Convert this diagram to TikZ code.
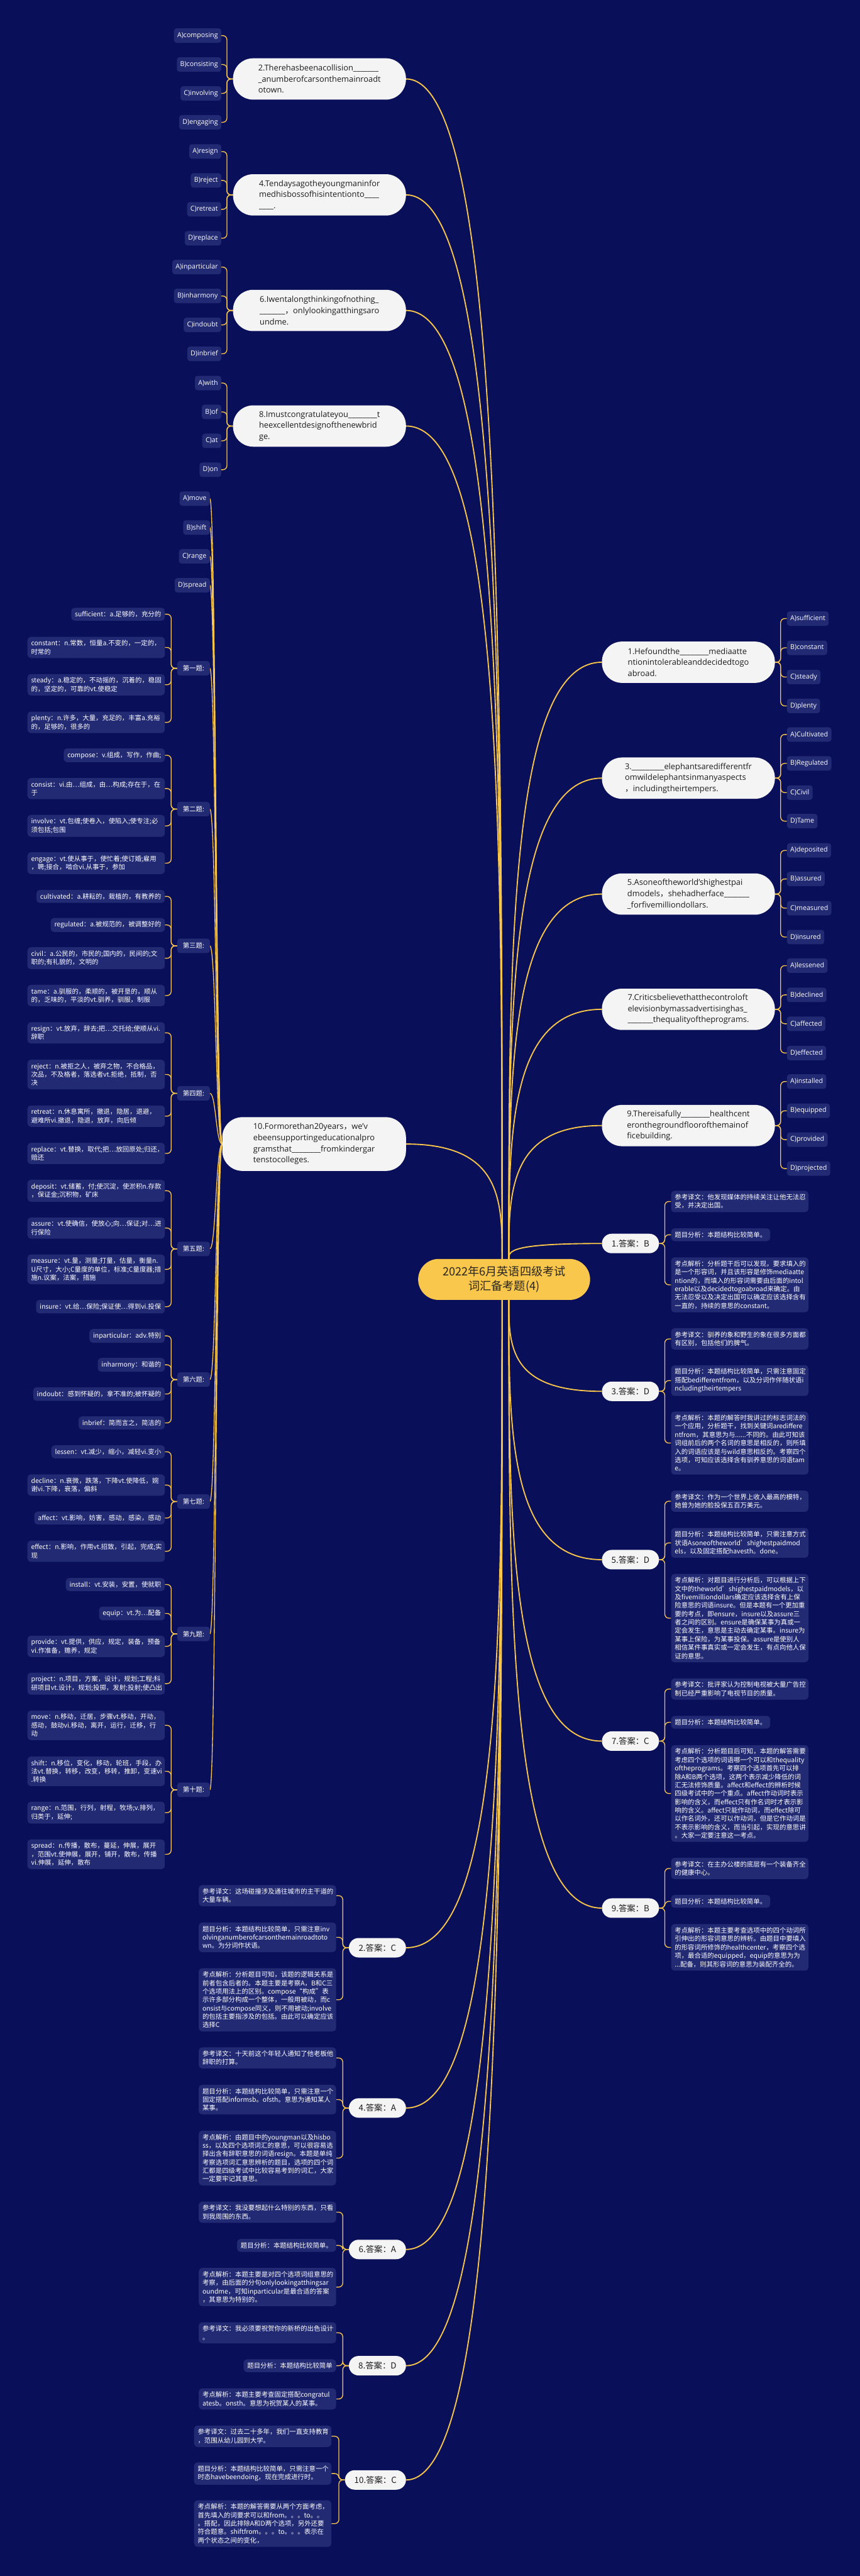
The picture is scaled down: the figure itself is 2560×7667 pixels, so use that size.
\documentclass[tikz,border=0pt]{standalone}
\usepackage{fontspec}
\setmainfont{Noto Sans CJK SC}
\newfontfamily\cjkf{Noto Sans CJK SC}
\newfontfamily\latf{Open Sans}
\usetikzlibrary{calc}
\hyphenpenalty=10000
\exhyphenpenalty=10000
\definecolor{bg}{HTML}{0A0F59}
\definecolor{bx}{HTML}{222A73}
\definecolor{ln}{HTML}{F8C64A}
\definecolor{pill}{HTML}{F4F4F4}
\definecolor{ink}{HTML}{1C1C1C}
\definecolor{ctrfill}{HTML}{F9C74C}
\definecolor{ctrink}{HTML}{2A2620}
\pgfdeclarelayer{back}
\pgfsetlayers{back,main}
\tikzset{
 qn/.style={fill=pill, text=ink, rounded corners=60pt, minimum width=515pt, minimum height=123pt, align=left, font=\latf\fontsize{24}{33}\selectfont, inner xsep=20pt, inner ysep=8pt},
 opt/.style={fill=bx, text=white, rounded corners=8pt, minimum height=43pt, inner xsep=10pt, inner ysep=0pt, font=\latf\fontsize{20}{24}\selectfont},
 lbl/.style={fill=bx, text=white, rounded corners=8pt, minimum height=43pt, minimum width=97pt, inner xsep=10pt, inner ysep=0pt, font=\cjkf\fontsize{19.5}{24}\selectfont},
 vb/.style={fill=bx, text=white, rounded corners=10pt, inner xsep=11pt, inner ysep=10pt, align=left, font=\cjkf\fontsize{19.5}{25}\selectfont},
 tw/.style={text width=387pt},
 ap/.style={fill=pill, text=ink, rounded corners=29pt, minimum width=170pt, minimum height=58pt, inner xsep=28pt, font=\cjkf\fontsize{25}{30}\selectfont},
 cn/.style={fill=ctrfill, text=ctrink, rounded corners=61pt, minimum width=512pt, minimum height=122pt, align=center, font=\cjkf\fontsize{34}{43}\selectfont},
 main/.style={draw=ln, line width=3.5pt},
 sub/.style={draw=ln, line width=2.5pt, rounded corners=12pt},
 curv/.style={draw=ln, line width=2.5pt},
}
\newcommand\mconn[2]{\draw[main] (#1) .. controls ($(#1)!0.5!(#1 |- #2)$) and (#1 |- #2) .. (#2);}
\newcommand\tconn[1]{\draw[curv] (q10.west) .. controls (m10) and (m10 |- #1.east) .. (#1.east);}
\newcommand\bl[2]{\draw[sub] (#1.west) -- ++(-18,0) |- (#2.east);}
\newcommand\br[2]{\draw[sub] (#1.east) -- ++(17,0) |- (#2.west);}
\begin{document}
\begin{tikzpicture}[x=1pt,y=-1pt]
\useasboundingbox (0,0) rectangle (2560,7667);
% center
\node[cn] (c) at (1501,3808) {2022年6月英语四级考试\\词汇备考题(4)};
\coordinate (ctl) at (1495,3747);
\coordinate (ctr) at (1515,3747);
\coordinate (cbl) at (1495,3869);
\coordinate (cbr) at (1515,3869);
% ---------- left questions
\node[qn, anchor=east] (q2) at (1209,235) {2.Therehasbeenacollision\_\_\_\_\_\_\_\\\_anumberofcarsonthemainroadt\\otown.};
\node[opt, anchor=east] (o2a) at (659,106) {A)composing};
\node[opt, anchor=east] (o2b) at (659,192) {B)consisting};
\node[opt, anchor=east] (o2c) at (659,278) {C)involving};
\node[opt, anchor=east] (o2d) at (659,364) {D)engaging};
\node[qn, anchor=east] (q4) at (1209,580) {4.Tendaysagotheyoungmaninfor\\medhisbossofhisintentionto\_\_\_\_\\\_\_\_\_.};
\node[opt, anchor=east] (o4a) at (659,451) {A)resign};
\node[opt, anchor=east] (o4b) at (659,537) {B)reject};
\node[opt, anchor=east] (o4c) at (659,623) {C)retreat};
\node[opt, anchor=east] (o4d) at (659,709) {D)replace};
\node[qn, anchor=east] (q6) at (1209,924) {6.Iwentalongthinkingofnothing\_\\\_\_\_\_\_\_\_{\cjkf ，}onlylookingatthingsaro\\undme.};
\node[opt, anchor=east] (o6a) at (659,795) {A)inparticular};
\node[opt, anchor=east] (o6b) at (659,881) {B)inharmony};
\node[opt, anchor=east] (o6c) at (659,967) {C)indoubt};
\node[opt, anchor=east] (o6d) at (659,1053) {D)inbrief};
\node[qn, anchor=east] (q8) at (1209,1268) {8.Imustcongratulateyou\_\_\_\_\_\_\_\_t\\heexcellentdesignofthenewbrid\\ge.};
\node[opt, anchor=east] (o8a) at (659,1140) {A)with};
\node[opt, anchor=east] (o8b) at (659,1226) {B)of};
\node[opt, anchor=east] (o8c) at (659,1312) {C)at};
\node[opt, anchor=east] (o8d) at (659,1398) {D)on};
% ---------- question 10 and vocabulary
\node[qn, anchor=east, minimum width=547pt, minimum height=160pt] (q10) at (1209,3405) {10.Formorethan20years{\cjkf ，}we’v\\ebeensupportingeducationalpro\\gramsthat\_\_\_\_\_\_\_\_fromkindergar\\tenstocolleges.};
\coordinate (m10) at (643,3405);
\node[opt, anchor=east] (oa) at (625,1484) {A)move};
\node[opt, anchor=east] (ob) at (625,1570) {B)shift};
\node[opt, anchor=east] (oc) at (625,1656) {C)range};
\node[opt, anchor=east] (od) at (625,1742) {D)spread};
\node[lbl, anchor=east] (l1) at (625,1989) {第一题:};
\node[lbl, anchor=east] (l2) at (625,2408) {第二题:};
\node[lbl, anchor=east] (l3) at (625,2815) {第三题:};
\node[lbl, anchor=east] (l4) at (625,3254) {第四题:};
\node[lbl, anchor=east] (l5) at (625,3717) {第五题:};
\node[lbl, anchor=east] (l6) at (625,4106) {第六题:};
\node[lbl, anchor=east] (l7) at (625,4469) {第七题:};
\node[lbl, anchor=east] (l9) at (625,4863) {第九题:};
\node[lbl, anchor=east] (l10) at (625,5327) {第十题:};
% group 1
\node[vb, anchor=east] (v1a) at (491,1828) {sufficient：a.足够的，充分的};
\node[vb, tw, anchor=east] (v1b) at (491,1927) {constant：n.常数，恒量a.不变的，一定的，\\时常的};
\node[vb, tw, anchor=east] (v1c) at (491,2038) {steady：a.稳定的，不动摇的，沉着的，稳固\\的，坚定的，可靠的vt.使稳定};
\node[vb, tw, anchor=east] (v1d) at (491,2150) {plenty：n.许多，大量，充足的，丰富a.充裕\\的，足够的，很多的};
% group 2
\node[vb, anchor=east] (v2a) at (491,2248) {compose：v.组成，写作，作曲;};
\node[vb, tw, anchor=east] (v2b) at (491,2347) {consist：vi.由…组成，由…构成;存在于，在\\于};
\node[vb, tw, anchor=east] (v2c) at (491,2458) {involve：vt.包缠;使卷入，使陷入;使专注;必\\须包括;包围};
\node[vb, tw, anchor=east] (v2d) at (491,2569) {engage：vt.使从事于，使忙着;使订婚;雇用\\，聘;接合，啮合vi.从事于，参加};
% group 3
\node[vb, anchor=east] (v3a) at (491,2668) {cultivated：a.耕耘的，栽植的，有教养的};
\node[vb, anchor=east] (v3b) at (491,2753) {regulated：a.被规范的，被调整好的};
\node[vb, tw, anchor=east] (v3c) at (491,2852) {civil：a.公民的，市民的;国内的，民间的;文\\职的;有礼貌的，文明的};
\node[vb, tw, anchor=east] (v3d) at (491,2963) {tame：a.驯服的，柔顺的，被开垦的，顺从\\的，乏味的，平淡的vt.驯养，驯服，制服};
% group 4
\node[vb, tw, anchor=east] (v4a) at (491,3074) {resign：vt.放弃，辞去;把…交托给;使顺从vi.\\辞职};
\node[vb, tw, anchor=east] (v4b) at (491,3198) {reject：n.被拒之人，被弃之物，不合格品，\\次品，不及格者，落选者vt.拒绝，抵制，否\\决};
\node[vb, tw, anchor=east] (v4c) at (491,3322) {retreat：n.休息寓所，撤退，隐居，退避，\\避难所vi.撤退，隐退，放弃，向后倾};
\node[vb, tw, anchor=east] (v4d) at (491,3433) {replace：vt.替换，取代;把…放回原处;归还，\\赔还};
% group 5
\node[vb, tw, anchor=east] (v5a) at (491,3544) {deposit：vt.储蓄，付;使沉淀，使淤积n.存款\\，保证金;沉积物，矿床};
\node[vb, tw, anchor=east] (v5b) at (491,3655) {assure：vt.使确信，使放心;向…保证;对…进\\行保险};
\node[vb, tw, anchor=east] (v5c) at (491,3778) {measure：vt.量，测量;打量，估量，衡量n.\\U尺寸，大小;C量度的单位，标准;C量度器;措\\施n.议案，法案，措施};
\node[vb, anchor=east] (v5d) at (491,3889) {insure：vt.给…保险;保证使…得到vi.投保};
% group 6
\node[vb, anchor=east] (v6a) at (491,3976) {inparticular：adv.特别};
\node[vb, anchor=east] (v6b) at (491,4062) {inharmony：和谐的};
\node[vb, anchor=east] (v6c) at (491,4149) {indoubt：感到怀疑的，拿不准的;被怀疑的};
\node[vb, anchor=east] (v6d) at (491,4235) {inbrief：简而言之，简洁的};
% group 7
\node[vb, anchor=east] (v7a) at (491,4321) {lessen：vt.减少，缩小，减轻vi.变小};
\node[vb, tw, anchor=east] (v7b) at (491,4420) {decline：n.衰微，跌落，下降vt.使降低，婉\\谢vi.下降，衰落，偏斜};
\node[vb, anchor=east] (v7c) at (491,4518) {affect：vt.影响，妨害，感动，感染，感动};
\node[vb, tw, anchor=east] (v7d) at (491,4617) {effect：n.影响，作用vt.招致，引起，完成;实\\现};
% group 9
\node[vb, anchor=east] (v9a) at (491,4716) {install：vt.安装，安置，使就职};
\node[vb, anchor=east] (v9b) at (491,4802) {equip：vt.为…配备};
\node[vb, tw, anchor=east] (v9c) at (491,4900) {provide：vt.提供，供应，规定，装备，预备\\vi.作准备，赡养，规定};
\node[vb, tw, anchor=east] (v9d) at (491,5011) {project：n.项目，方案，设计，规划;工程;科\\研项目vt.设计，规划;投掷，发射;投射;使凸出};
% group 10
\node[vb, tw, anchor=east] (v10a) at (491,5135) {move：n.移动，迁居，步骤vt.移动，开动，\\感动，鼓动vi.移动，离开，运行，迁移，行\\动};
\node[vb, tw, anchor=east] (v10b) at (491,5272) {shift：n.移位，变化，移动，轮班，手段，办\\法vt.替换，转移，改变，移转，推卸，变速vi\\.转换};
\node[vb, tw, anchor=east] (v10c) at (491,5395) {range：n.范围，行列，射程，牧场;v.排列，\\归类于，延伸;};
\node[vb, tw, anchor=east] (v10d) at (491,5519) {spread：n.传播，散布，蔓延，伸展，展开\\，范围vt.使伸展，展开，铺开，散布，传播\\vi.伸展，延伸，散布};
% ---------- right questions
\node[qn, anchor=west] (q1) at (1792,1971) {1.Hefoundthe\_\_\_\_\_\_\_\_mediaatte\\ntionintolerableanddecidedtogo\\abroad.};
\node[opt, anchor=west] (p1a) at (2343,1841) {A)sufficient};
\node[opt, anchor=west] (p1b) at (2343,1928) {B)constant};
\node[opt, anchor=west] (p1c) at (2343,2015) {C)steady};
\node[opt, anchor=west] (p1d) at (2343,2101) {D)plenty};
\node[qn, anchor=west] (q3) at (1792,2316) {3.\_\_\_\_\_\_\_\_\_elephantsaredifferentfr\\omwildelephantsinmanyaspects\\{\cjkf ，}includingtheirtempers.};
\node[opt, anchor=west] (p3a) at (2343,2186) {A)Cultivated};
\node[opt, anchor=west] (p3b) at (2343,2272) {B)Regulated};
\node[opt, anchor=west] (p3c) at (2343,2359) {C)Civil};
\node[opt, anchor=west] (p3d) at (2343,2444) {D)Tame};
\node[qn, anchor=west] (q5) at (1792,2661) {5.Asoneoftheworld’shighestpai\\dmodels{\cjkf ，}shehadherface\_\_\_\_\_\_\_\\\_forfivemilliondollars.};
\node[opt, anchor=west] (p5a) at (2343,2531) {A)deposited};
\node[opt, anchor=west] (p5b) at (2343,2616) {B)assured};
\node[opt, anchor=west] (p5c) at (2343,2703) {C)measured};
\node[opt, anchor=west] (p5d) at (2343,2789) {D)insured};
\node[qn, anchor=west] (q7) at (1792,3004) {7.Criticsbelievethatthecontroloft\\elevisionbymassadvertisinghas\_\\\_\_\_\_\_\_\_thequalityoftheprograms.};
\node[opt, anchor=west] (p7a) at (2343,2874) {A)lessened};
\node[opt, anchor=west] (p7b) at (2343,2961) {B)declined};
\node[opt, anchor=west] (p7c) at (2343,3047) {C)affected};
\node[opt, anchor=west] (p7d) at (2343,3134) {D)effected};
\node[qn, anchor=west] (q9) at (1792,3350) {9.Thereisafully\_\_\_\_\_\_\_\_healthcent\\eronthegroundfloorofthemainof\\ficebuilding.};
\node[opt, anchor=west] (p9a) at (2343,3219) {A)installed};
\node[opt, anchor=west] (p9b) at (2343,3306) {B)equipped};
\node[opt, anchor=west] (p9c) at (2343,3392) {C)provided};
\node[opt, anchor=west] (p9d) at (2343,3478) {D)projected};
% ---------- right answers
\node[ap, anchor=west] (a1) at (1792,3701) {1.答案：B};
\node[vb, tw, anchor=west] (e1a) at (1998,3576) {参考译文：他发现媒体的持续关注让他无法忍\\受，并决定出国。};
\node[vb, anchor=west] (e1b) at (1998,3675) {题目分析：本题结构比较简单。};
\node[vb, tw, anchor=west] (e1c) at (1998,3824) {考点解析：分析题干后可以发现，要求填入的\\是一个形容词，并且该形容是修饰mediaatte\\ntion的，而填入的形容词需要由后面的intol\\erable以及decidedtogoabroad来确定。由\\无法忍受以及决定出国可以确定应该选择含有\\一直的，持续的意思的constant。};
\node[ap, anchor=west] (a3) at (1792,4141) {3.答案：D};
\node[vb, tw, anchor=west] (e3a) at (1998,3985) {参考译文：驯养的象和野生的象在很多方面都\\有区别，包括他们的脾气。};
\node[vb, tw, anchor=west] (e3b) at (1998,4109) {题目分析：本题结构比较简单，只需注意固定\\搭配bedifferentfrom，以及分词作伴随状语i\\ncludingtheirtempers};
\node[vb, tw, anchor=west] (e3c) at (1998,4295) {考点解析：本题的解答时我讲过的标志词法的\\一个应用，分析题干，找到关键词arediffere\\ntfrom，其意思为与......不同的。由此可知该\\词组前后的两个名词的意思是相反的，则所填\\入的词语应该是与wild意思相反的。考察四个\\选项，可知应该选择含有驯养意思的词语tam\\e。};
\node[ap, anchor=west] (a5) at (1792,4642) {5.答案：D};
\node[vb, tw, anchor=west] (e5a) at (1998,4468) {参考译文：作为一个世界上收入最高的模特，\\她曾为她的脸投保五百万美元。};
\node[vb, tw, anchor=west] (e5b) at (1998,4592) {题目分析：本题结构比较简单，只需注意方式\\状语Asoneoftheworld’shighestpaidmod\\els，以及固定搭配havesth。done。};
\node[vb, tw, anchor=west] (e5c) at (1998,4816) {考点解析：对题目进行分析后，可以根据上下\\文中的theworld’shighestpaidmodels，以\\及fivemilliondollars确定应该选择含有上保\\险意思的词语insure。但是本题有一个更加重\\要的考点，即ensure，insure以及assure三\\者之间的区别。ensure是确保某事为真或一\\定会发生，意思是主动去确定某事。insure为\\某事上保险，为某事投保。assure是使别人\\相信某件事真实或一定会发生，有点向他人保\\证的意思。};
\node[ap, anchor=west] (a7) at (1792,5182) {7.答案：C};
\node[vb, tw, anchor=west] (e7a) at (1998,5027) {参考译文：批评家认为控制电视被大量广告控\\制已经严重影响了电视节目的质量。};
\node[vb, anchor=west] (e7b) at (1998,5126) {题目分析：本题结构比较简单。};
\node[vb, tw, anchor=west] (e7c) at (1998,5338) {考点解析：分析题目后可知，本题的解答需要\\考虑四个选项的词语哪一个可以和thequality\\oftheprograms。考察四个选项首先可以排\\除A和B两个选项，这两个表示减少降低的词\\汇无法修饰质量。affect和effect的辨析时候\\四级考试中的一个重点。affect作动词时表示\\影响的含义，而effect只有作名词时才表示影\\响的含义。affect只能作动词，而effect除可\\以作名词外，还可以作动词，但是它作动词是\\不表示影响的含义，而当引起，实现的意思讲\\。大家一定要注意这一考点。};
\node[ap, anchor=west] (a9) at (1792,5679) {9.答案：B};
\node[vb, tw, anchor=west] (e9a) at (1998,5561) {参考译文：在主办公楼的底层有一个装备齐全\\的健康中心。};
\node[vb, anchor=west] (e9b) at (1998,5659) {题目分析：本题结构比较简单。};
\node[vb, tw, anchor=west] (e9c) at (1998,5796) {考点解析：本题主要考查选项中的四个动词所\\引伸出的形容词意思的辨析。由题目中要填入\\的形容词所修饰的healthcenter，考察四个选\\项，最合适的equipped，equip的意思为为\\...配备，则其形容词的意思为装配齐全的。};
% ---------- left answers
\node[ap, anchor=east] (a2) at (1209,5797) {2.答案：C};
\node[vb, tw, anchor=east] (f2a) at (1001,5642) {参考译文：这场碰撞涉及通往城市的主干道的\\大量车辆。};
\node[vb, tw, anchor=east] (f2b) at (1001,5766) {题目分析：本题结构比较简单，只需注意inv\\olvinganumberofcarsonthemainroadtoto\\wn。为分词作状语。};
\node[vb, tw, anchor=east] (f2c) at (1001,5952) {考点解析：分析题目可知，该题的逻辑关系是\\前者包含后者的。本题主要是考察A，B和C三\\个选项用法上的区别。compose“构成”表\\示许多部分构成一个整体，一般用被动，而c\\onsist与compose同义，则不用被动;involve\\的包括主要指涉及的包括。由此可以确定应该\\选择C};
\node[ap, anchor=east] (a4) at (1209,6274) {4.答案：A};
\node[vb, tw, anchor=east] (f4a) at (1001,6125) {参考译文：十天前这个年轻人通知了他老板他\\辞职的打算。};
\node[vb, tw, anchor=east] (f4b) at (1001,6249) {题目分析：本题结构比较简单，只需注意一个\\固定搭配informsb。ofsth。意思为通知某人\\某事。};
\node[vb, tw, anchor=east] (f4c) at (1001,6423) {考点解析：由题目中的youngman以及hisbo\\ss，以及四个选项词汇的意思，可以很容易选\\择出含有辞职意思的词语resign。本题是单纯\\考察选项词汇意思辨析的题目，选项的四个词\\汇都是四级考试中比较容易考到的词汇，大家\\一定要牢记其意思。};
\node[ap, anchor=east] (a6) at (1209,6695) {6.答案：A};
\node[vb, tw, anchor=east] (f6a) at (1001,6584) {参考译文：我没要想起什么特别的东西，只看\\到我周围的东西。};
\node[vb, anchor=east] (f6b) at (1001,6683) {题目分析：本题结构比较简单。};
\node[vb, tw, anchor=east] (f6c) at (1001,6807) {考点解析：本题主要是对四个选项词组意思的\\考察，由后面的分句onlylookingatthingsar\\oundme，可知inparticular是最合适的答案\\，其意思为特别的。};
\node[ap, anchor=east] (a8) at (1209,7041) {8.答案：D};
\node[vb, tw, anchor=east] (f8a) at (1001,6943) {参考译文：我必须要祝贺你的新桥的出色设计\\。};
\node[vb, anchor=east] (f8b) at (1001,7041) {题目分析：本题结构比较简单};
\node[vb, tw, anchor=east] (f8c) at (1001,7140) {考点解析：本题主要考查固定搭配congratul\\atesb。onsth。意思为祝贺某人的某事。};
\node[ap, anchor=east] (a10) at (1209,7381) {10.答案：C};
\node[vb, tw, anchor=east] (f10a) at (987,7251) {参考译文：过去二十多年，我们一直支持教育\\，范围从幼儿园到大学。};
\node[vb, tw, anchor=east] (f10b) at (987,7362) {题目分析：本题结构比较简单，只需注意一个\\时态havebeendoing，现在完成进行时。};
\node[vb, tw, anchor=east] (f10c) at (987,7511) {考点解析：本题的解答需要从两个方面考虑，\\首先填入的词要求可以和from。。。to。。\\。搭配，因此排除A和D两个选项，另外还要\\符合题意。shiftfrom。。。to。。。表示在\\两个状态之间的变化，};
% ---------- connectors
\begin{pgfonlayer}{back}
\fill[bg] (0,0) rectangle (2560,7667);
\mconn{ctl}{q2.east}\mconn{ctl}{q4.east}\mconn{ctl}{q6.east}\mconn{ctl}{q8.east}\mconn{ctl}{q10.east}
\mconn{ctr}{q1.west}\mconn{ctr}{q3.west}\mconn{ctr}{q5.west}\mconn{ctr}{q7.west}\mconn{ctr}{q9.west}\mconn{ctr}{a1.west}
\mconn{cbl}{a2.east}\mconn{cbl}{a4.east}\mconn{cbl}{a6.east}\mconn{cbl}{a8.east}\mconn{cbl}{a10.east}
\mconn{cbr}{a3.west}\mconn{cbr}{a5.west}\mconn{cbr}{a7.west}\mconn{cbr}{a9.west}
\foreach \q in {2,4,6,8}{\foreach \o in {a,b,c,d}{\bl{q\q}{o\q\o}}}
\foreach \q in {1,3,5,7,9}{\foreach \o in {a,b,c,d}{\br{q\q}{p\q\o}}}
\foreach \n in {oa,ob,oc,od,l1,l2,l3,l4,l5,l6,l7,l9,l10}{\tconn{\n}}
\foreach \g in {1,2,3,4,5,6,7,9,10}{\foreach \o in {a,b,c,d}{\bl{l\g}{v\g\o}}}
\foreach \g in {1,3,5,7,9}{\foreach \o in {a,b,c}{\br{a\g}{e\g\o}}}
\foreach \g in {2,4,6,8,10}{\foreach \o in {a,b,c}{\bl{a\g}{f\g\o}}}
\end{pgfonlayer}
\end{tikzpicture}
\end{document}
